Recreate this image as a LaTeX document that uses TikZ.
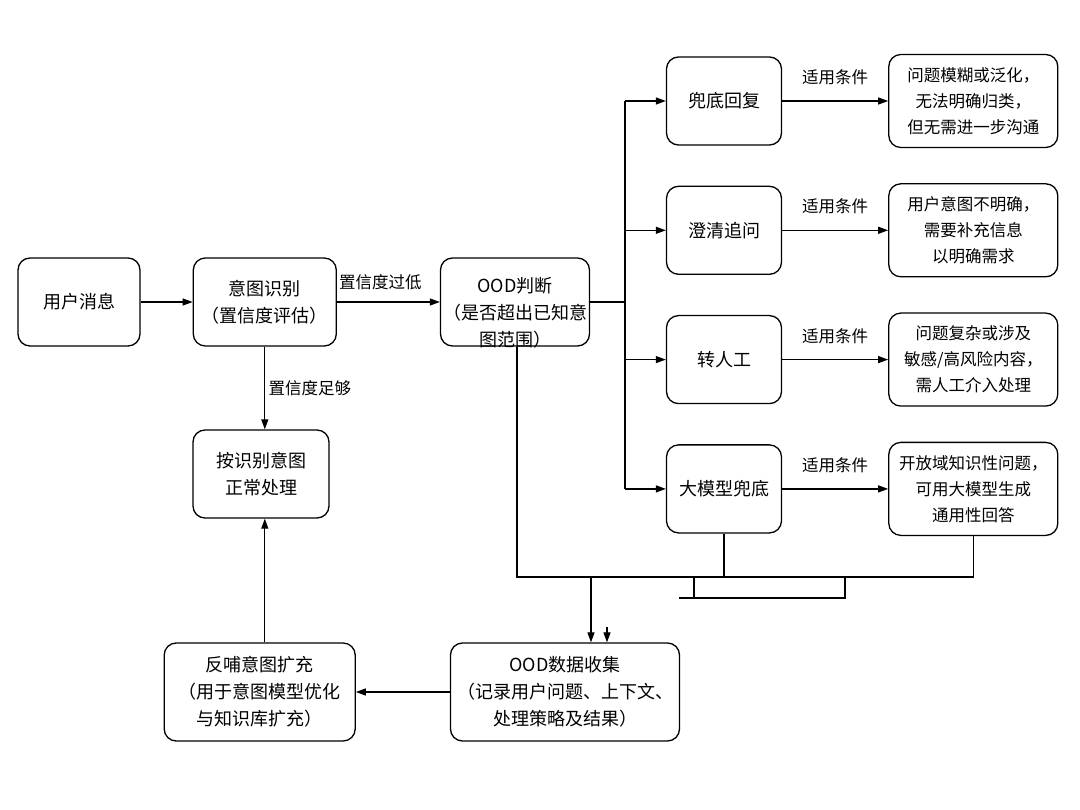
\documentclass[tikz,border=0pt]{standalone}
\usepackage{fontspec}
\setmainfont{Noto Sans CJK SC}
\usetikzlibrary{arrows.meta}
\usetikzlibrary{positioning}

\tikzset{
  box/.style={draw, rounded corners=12pt, line width=1.3pt, align=center,
    inner sep=2pt, font=\fontsize{18}{27}\selectfont},
  stepnode/.style={box, minimum width=115pt, minimum height=88pt},
  casebox/.style={box, minimum width=169pt, minimum height=93pt,
    font=\fontsize{16.5}{26}\selectfont},
  flow/.style={-{Triangle[length=10pt,width=7pt]}, line width=1.2pt},
  cond/.style={font=\fontsize{16.5}{20}\selectfont, above=12pt}
}

\begin{document}
\begin{tikzpicture}[x=1pt,y=-1pt]
  \useasboundingbox (0,0) rectangle (1080,810);

  % main row
  \node[box, minimum width=122pt, minimum height=88pt] (user) at (79,302) {用户消息};
  \node[box, minimum width=143pt, minimum height=88pt, right=52pt of user] (intent) {意图识别\\（置信度评估）};
  \node[box, minimum width=149pt, minimum height=88pt] (ood) at (515,302) {};
  \node[font=\fontsize{18}{27}\selectfont, align=center] (oodtext) at (515,313) {OOD判断\\（是否超出已知意\\图范围）};
  \node[box, minimum width=136pt, minimum height=88pt] (normal) at (261,474) {按识别意图\\正常处理};

  % strategies
  \node[stepnode] (fallback) at (724,101) {兜底回复};
  \node[stepnode, below=40pt of fallback] (clarify) {澄清追问};
  \node[stepnode, below=40pt of clarify] (handoff) {转人工};
  \node[stepnode, below=40pt of handoff] (llm) {大模型兜底};

  \node[casebox, right=106pt of fallback] (case1) {问题模糊或泛化，\\无法明确归类，\\但无需进一步沟通};
  \node[casebox, right=106pt of clarify] (case2) {用户意图不明确，\\需要补充信息\\以明确需求};
  \node[casebox, right=106pt of handoff] (case3) {问题复杂或涉及\\敏感/高风险内容，\\需人工介入处理};
  \node[casebox, right=106pt of llm] (case4) {开放域知识性问题，\\可用大模型生成\\通用性回答};

  % bottom row
  \node[box, minimum width=229pt, minimum height=98pt] (collect) at (565,692) {OOD数据收集\\（记录用户问题、上下文、\\处理策略及结果）};
  \node[box, minimum width=191pt, minimum height=98pt, left=94pt of collect] (feedback) {反哺意图扩充\\（用于意图模型优化\\与知识库扩充）};

  % connectors
  \draw[flow] (user) -- (intent);
  \draw[flow] (intent) -- node[cond, above=8pt, xshift=-8pt] {置信度过低} (ood);
  \draw[flow] (intent) -- node[cond, right=2pt, above=0pt, anchor=west] {置信度足够} (intent |- normal.north);

  \coordinate (split) at (625,302);
  \draw[line width=1.2pt] (ood) -- (split);
  \draw[line width=1.2pt] (split |- fallback) -- (split |- llm);
  \foreach \n in {fallback,clarify,handoff,llm}
    \draw[flow] (split |- \n) -- (\n);
  \foreach \a/\b in {fallback/case1,clarify/case2,handoff/case3,llm/case4}
    \draw[flow] (\a) -- node[cond] {适用条件} (\b);

  \coordinate (busL) at (517,577);
  \coordinate (stubL) at (679,598);
  \coordinate (stubR) at (845,598);
  \draw[line width=1.2pt] (ood.south -| busL) -- (busL) -- (case4.south |- busL) -- (case4.south);
  \draw[line width=1.2pt] (llm) -- (llm |- busL);
  \draw[line width=1.2pt] (stubL) -- (stubR) -- (stubR |- busL);
  \draw[line width=1.2pt] ([xshift=15pt]stubL) -- ([xshift=15pt]stubL |- busL);

  \coordinate (drop) at (591,577);
  \coordinate (drop2) at (607,627);
  \draw[flow] (drop) -- (drop |- collect.north);
  \draw[flow] (drop2) -- (drop2 |- collect.north);

  \draw[flow] (collect) -- (feedback);
  \draw[flow] (intent |- feedback.north) -- (intent |- normal.south);
\end{tikzpicture}
\end{document}
